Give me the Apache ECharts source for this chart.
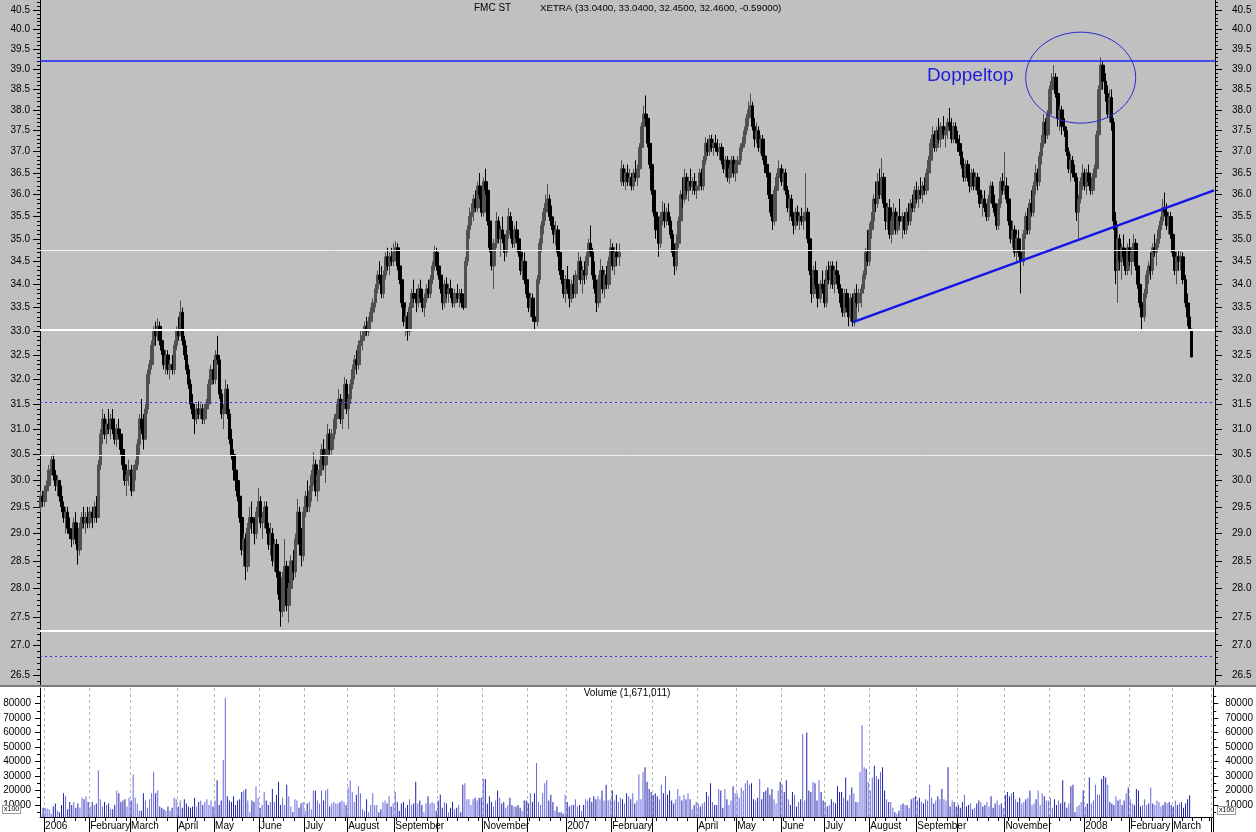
<!DOCTYPE html>
<html><head><meta charset="utf-8">
<script src="https://cdn.jsdelivr.net/npm/echarts@6/dist/echarts.min.js"></script>
<style>html,body{margin:0;padding:0;background:#fff}#c{width:1256px;height:832px}</style>
</head><body><div id="c"></div><script>
// ---------- DATA ----------
const symbolName = 'FMC ST';
const exchange = 'XETRA';
const holidays = ['2006-04-14','2006-04-17','2006-05-01','2006-12-25','2006-12-26','2007-01-01','2007-04-06','2007-04-09','2007-05-01','2007-12-24','2007-12-25','2007-12-26','2007-12-31','2008-01-01','2008-03-21','2008-03-24'];
const monthLabels = ['2006','February','March','April','May','June','July','August','September','','November','',
  '2007','February','','April','May','June','July','August','September','','November','',
  '2008','February','March'];
const priceTicks = [26.5,27.0,27.5,28.0,28.5,29.0,29.5,30.0,30.5,31.0,31.5,32.0,32.5,33.0,33.5,34.0,34.5,35.0,35.5,36.0,36.5,37.0,37.5,38.0,38.5,39.0,39.5,40.0,40.5];
const volumeTicks = [10000,20000,30000,40000,50000,60000,70000,80000];
const volumeMinorTicks = [5000,15000,25000,35000,45000,55000,65000,75000,85000];
// horizontal levels: resistance, white support lines, blue dotted lines
const resistanceLevel = 39.20;
const whiteThinLevels = [34.75, 30.49];
const whiteThickLevels = [33.02, 27.26];
const dottedLevels = [31.54, 26.81];
// trend line: [bar index, price]
const trendStart = [396, 33.19];
const trendEnd = [572, 36.10];
// "Doppeltop" annotation anchors: [bar index, price]
const doubleTopCenter = [506.6, 38.79];
const doubleTopLabelAt = [432, 38.83];
// daily bars [open, high, low, close]
const ohlc = [
[29.5,29.8,29.4,29.7],[29.7,29.8,29.5,29.6],[29.6,29.9,29.5,29.8],[29.8,30.0,29.6,29.9],[29.9,30.3,29.8,30.2],[30.2,30.5,30.1,30.4],[30.4,30.5,30.0,30.1],[30.1,30.2,29.8,29.9],[29.9,30.1,29.7,30.0],[30.0,30.0,29.6,29.7],
[29.7,29.9,29.4,29.5],[29.5,29.6,29.2,29.3],[29.3,29.5,29.0,29.4],[29.4,29.5,29.0,29.1],[29.1,29.3,28.9,29.0],[29.0,29.1,28.75,28.9],[28.9,29.3,28.8,29.2],[29.2,29.4,28.8,28.9],[28.9,29.0,28.43,28.7],[28.7,29.2,28.6,29.1],
[29.1,29.4,29.0,29.3],[29.3,29.5,29.1,29.2],[29.2,29.4,29.0,29.3],[29.3,29.5,29.1,29.2],[29.2,29.5,29.1,29.4],[29.4,29.5,29.1,29.3],[29.3,29.6,29.2,29.5],[29.5,29.7,29.2,29.3],[29.3,30.4,29.3,30.3],[30.3,31.0,30.2,30.9],
[30.9,31.4,30.7,31.2],[31.2,31.3,30.8,30.9],[30.9,31.2,30.7,31.1],[31.1,31.4,30.9,31.0],[31.0,31.3,30.8,31.2],[31.2,31.4,30.9,31.0],[31.0,31.2,30.7,30.8],[30.8,31.1,30.65,31.0],[31.0,31.2,30.8,30.9],[30.9,31.0,30.5,30.6],
[30.6,30.9,30.2,30.3],[30.3,30.4,29.9,30.0],[30.0,30.2,29.7,30.1],[30.1,30.4,29.9,30.2],[30.2,30.3,29.7,29.8],[29.8,30.3,29.8,30.2],[30.2,30.4,30.0,30.3],[30.3,30.8,30.2,30.7],[30.7,31.3,30.5,31.2],[31.2,31.6,30.9,31.0],
[31.0,31.3,30.6,30.8],[30.8,31.5,30.8,31.4],[31.4,32.2,31.3,32.1],[32.1,32.4,31.9,32.3],[32.3,32.8,32.2,32.7],[32.7,33.1,32.5,33.0],[33.0,33.2,32.7,32.9],[32.9,33.27,32.8,33.1],[33.1,33.2,32.7,32.8],[32.8,33.0,32.5,32.6],
[32.6,32.7,32.2,32.3],[32.3,32.6,32.1,32.5],[32.5,32.6,32.1,32.2],[32.2,32.4,32.0,32.3],[32.3,32.5,32.1,32.2],[32.2,32.8,32.1,32.7],[32.7,33.1,32.6,33.0],[33.0,33.3,32.8,32.9],[32.9,33.65,32.9,33.4],[33.4,33.5,32.7,32.8],
[32.8,32.9,32.4,32.5],[32.5,32.7,32.1,32.2],[32.2,32.3,31.8,31.9],[31.9,32.0,31.4,31.5],[31.5,31.7,31.2,31.3],[31.3,31.4,30.9,31.2],[31.2,31.5,31.1,31.4],[31.4,31.55,31.2,31.3],[31.3,31.5,31.2,31.4],[31.4,31.5,31.1,31.2],
[31.2,31.5,31.1,31.4],[31.4,31.6,31.3,31.5],[31.5,32.0,31.4,31.9],[31.9,32.3,31.8,32.2],[32.2,32.4,31.9,32.0],[32.0,32.6,31.9,32.5],[32.5,32.9,32.3,32.4],[32.4,32.5,31.6,31.7],[31.7,31.8,31.2,31.3],[31.3,31.5,31.0,31.4],
[31.4,32.0,31.3,31.8],[31.8,31.9,31.2,31.3],[31.3,31.4,30.7,30.8],[30.8,31.0,30.4,30.5],[30.5,30.6,30.0,30.2],[30.2,30.4,29.8,30.0],[30.0,30.2,29.6,29.7],[29.7,29.8,29.2,29.3],[29.3,29.5,28.6,28.7],[28.7,29.0,28.4,28.9],
[28.9,29.0,28.15,28.4],[28.4,29.2,28.3,29.1],[29.1,29.5,28.9,29.3],[29.3,29.6,29.0,29.2],[29.2,29.3,28.8,29.0],[29.0,29.5,28.9,29.4],[29.4,29.85,29.3,29.6],[29.6,29.7,29.1,29.2],[29.2,29.4,28.9,29.3],[29.3,29.6,29.1,29.5],
[29.5,29.6,29.0,29.1],[29.1,29.2,28.7,28.8],[28.8,29.2,28.6,29.0],[29.0,29.1,28.4,28.5],[28.5,28.9,28.3,28.8],[28.8,28.9,28.2,28.3],[28.3,28.5,27.8,27.9],[27.9,28.0,27.33,27.6],[27.6,28.3,27.5,28.2],[28.2,28.9,28.0,28.4],
[28.4,28.5,27.6,27.7],[27.7,28.1,27.4,28.0],[28.0,28.6,27.9,28.5],[28.5,28.7,28.15,28.3],[28.3,29.0,28.2,28.9],[28.9,29.65,28.8,29.4],[29.4,29.5,28.6,28.8],[28.8,29.1,28.4,28.6],[28.6,29.5,28.5,29.4],[29.4,29.8,29.3,29.7],
[29.7,30.0,29.4,29.5],[29.5,29.9,29.4,29.8],[29.8,30.2,29.6,30.1],[30.1,30.55,29.9,30.3],[30.3,30.4,29.7,29.8],[29.8,30.2,29.6,30.1],[30.1,30.4,29.9,30.2],[30.2,30.7,30.1,30.6],[30.6,30.8,30.2,30.3],[30.3,30.6,29.95,30.5],
[30.5,31.1,30.4,30.9],[30.9,31.0,30.5,30.6],[30.6,31.0,30.5,30.9],[30.9,31.3,30.8,31.2],[31.2,31.5,31.0,31.3],[31.3,31.8,31.2,31.6],[31.6,31.7,31.1,31.2],[31.2,31.6,31.0,31.5],[31.5,32.05,31.4,31.9],[31.9,32.0,31.3,31.4],
[31.4,31.7,31.0,31.6],[31.6,32.0,31.5,31.9],[31.9,32.3,31.8,32.2],[32.2,32.5,32.0,32.4],[32.4,32.6,32.1,32.3],[32.3,32.8,32.2,32.7],[32.7,33.0,32.5,32.8],[32.8,33.0,32.6,32.9],[32.9,33.2,32.9,33.1],[33.1,33.3,32.9,33.0],
[33.0,33.3,32.9,33.2],[33.2,33.5,33.1,33.4],[33.4,33.7,33.3,33.6],[33.6,34.0,33.5,33.9],[33.9,34.3,33.8,34.2],[34.2,34.5,34.0,34.1],[34.1,34.4,33.7,33.8],[33.8,34.3,33.7,34.2],[34.2,34.7,34.1,34.6],[34.6,34.8,34.3,34.4],
[34.4,34.7,34.2,34.6],[34.6,34.8,34.4,34.5],[34.5,34.9,34.4,34.7],[34.7,34.95,34.5,34.8],[34.8,34.9,34.3,34.4],[34.4,34.6,34.0,34.1],[34.1,34.2,33.5,33.6],[33.6,33.8,33.1,33.2],[33.2,33.5,32.9,33.3],[33.3,33.4,32.8,33.0],
[33.0,33.6,32.9,33.5],[33.5,33.9,33.3,33.8],[33.8,34.1,33.6,33.7],[33.7,33.9,33.4,33.6],[33.6,34.0,33.5,33.9],[33.9,34.1,33.6,33.7],[33.7,33.9,33.4,33.5],[33.5,33.8,33.3,33.7],[33.7,34.0,33.6,33.9],[33.9,34.1,33.7,33.8],
[33.8,34.2,33.7,34.1],[34.1,34.5,34.0,34.4],[34.4,34.85,34.3,34.7],[34.7,34.8,34.3,34.4],[34.4,34.6,34.1,34.2],[34.2,34.3,33.8,33.9],[33.9,34.0,33.45,33.6],[33.6,34.1,33.5,34.0],[34.0,34.15,33.7,33.8],[33.8,34.0,33.6,33.9],
[33.9,34.1,33.7,33.8],[33.8,33.9,33.5,33.6],[33.6,33.9,33.5,33.8],[33.8,34.0,33.6,33.7],[33.7,33.9,33.5,33.8],[33.8,33.9,33.5,33.6],[33.6,33.8,33.45,33.5],[33.5,34.6,33.5,34.5],[34.5,35.3,34.4,35.2],[35.2,35.7,35.0,35.5],
[35.5,35.8,35.3,35.6],[35.6,36.0,35.4,35.9],[35.9,36.1,35.6,35.7],[35.7,36.3,35.6,36.2],[36.2,36.5,35.9,36.0],[36.0,36.2,35.5,35.6],[35.6,36.4,35.5,36.3],[36.3,36.6,36.0,36.1],[36.1,36.2,35.3,35.4],[35.4,35.6,34.7,34.8],
[34.8,35.2,34.3,34.4],[34.4,35.0,33.9,34.9],[34.9,35.6,34.8,35.4],[35.4,35.5,34.9,35.0],[35.0,35.3,34.6,35.2],[35.2,35.5,34.9,35.0],[35.0,35.1,34.5,34.7],[34.7,35.2,34.6,35.1],[35.1,35.7,35.0,35.5],[35.5,35.6,35.0,35.2],
[35.2,35.4,34.8,34.9],[34.9,35.3,34.8,35.2],[35.2,35.4,34.9,35.0],[35.0,35.1,34.6,34.7],[34.7,34.8,34.2,34.3],[34.3,34.6,34.1,34.5],[34.5,34.7,34.0,34.1],[34.1,34.2,33.7,33.8],[33.8,33.9,33.4,33.5],[33.5,33.8,33.3,33.7],
[33.7,33.8,33.2,33.3],[33.3,33.4,33.0,33.2],[33.2,34.2,33.1,34.1],[34.1,35.0,34.0,34.9],[34.9,35.4,34.7,35.3],[35.3,35.7,35.1,35.6],[35.6,36.0,35.4,35.8],[35.8,36.25,35.6,35.9],[35.9,36.0,35.4,35.5],[35.5,35.75,35.2,35.3],
[35.3,35.5,34.9,35.1],[35.1,35.4,34.85,35.2],[35.2,35.3,34.6,34.7],[34.7,34.8,34.2,34.3],[34.3,34.55,34.0,34.1],[34.1,34.3,33.7,33.8],[33.8,34.2,33.6,34.1],[34.1,34.4,33.8,33.9],[33.9,34.0,33.5,33.7],[33.7,34.1,33.6,34.0],
[34.0,34.2,33.7,33.8],[33.8,34.3,33.7,34.2],[34.2,34.7,34.1,34.5],[34.5,34.6,34.0,34.1],[34.1,34.4,33.8,34.3],[34.3,34.5,34.0,34.2],[34.2,34.7,34.1,34.6],[34.6,35.0,34.4,34.9],[34.9,35.3,34.6,34.7],[34.7,34.8,34.1,34.2],
[34.2,34.5,33.8,33.9],[33.9,34.1,33.4,33.6],[33.6,34.2,33.5,34.1],[34.1,34.55,34.0,34.3],[34.3,34.4,33.8,33.9],[33.9,34.3,33.7,34.2],[34.2,34.4,33.9,34.0],[34.0,34.6,33.9,34.5],[34.5,35.0,34.3,34.8],[34.8,34.9,34.3,34.4],
[34.4,34.8,34.2,34.7],[34.7,34.9,34.4,34.6],[34.6,34.9,34.4,34.7],[36.3,36.8,36.2,36.6],[36.6,36.7,36.2,36.3],[36.3,36.6,36.1,36.5],[36.5,36.7,36.2,36.3],[36.3,36.6,36.2,36.4],[36.4,36.5,36.1,36.2],[36.2,36.6,36.1,36.5],
[36.5,36.8,36.3,36.4],[36.4,36.7,36.2,36.6],[36.6,37.2,36.5,37.1],[37.1,37.7,37.0,37.6],[37.6,38.1,37.4,37.9],[37.9,38.35,37.6,37.8],[37.8,37.9,37.1,37.2],[37.2,37.4,36.6,36.7],[36.7,36.8,36.0,36.1],[36.1,36.2,35.5,35.6],
[35.6,35.8,35.0,35.2],[35.2,35.5,34.6,34.9],[34.9,35.6,34.8,35.5],[35.5,35.85,35.3,35.6],[35.6,35.8,35.25,35.4],[35.4,35.7,35.3,35.6],[35.6,35.8,35.3,35.4],[35.4,35.5,35.0,35.1],[35.1,35.2,34.6,34.7],[34.7,34.9,34.2,34.4],
[34.4,35.1,34.3,34.9],[34.9,35.5,34.8,35.4],[35.4,36.1,35.3,36.0],[36.0,36.4,35.7,35.9],[35.9,36.6,35.8,36.4],[36.4,36.5,36.0,36.1],[36.1,36.4,35.85,36.3],[36.3,36.6,36.1,36.2],[36.2,36.4,36.0,36.3],[36.3,36.5,36.0,36.1],
[36.1,36.3,35.9,36.2],[36.2,36.6,36.1,36.5],[36.5,36.6,36.1,36.2],[36.2,36.9,36.1,36.8],[36.8,37.35,36.7,37.2],[37.2,37.3,36.9,37.0],[37.0,37.4,36.9,37.3],[37.3,37.4,37.0,37.1],[37.1,37.3,36.9,37.2],[37.2,37.4,37.0,37.1],
[37.1,37.3,36.9,37.0],[37.0,37.2,36.8,37.1],[37.1,37.2,36.7,36.8],[36.8,36.95,36.5,36.6],[36.6,36.9,36.4,36.8],[36.8,36.9,36.3,36.4],[36.4,36.7,36.25,36.6],[36.6,36.9,36.5,36.8],[36.8,36.9,36.4,36.5],[36.5,36.8,36.3,36.7],
[36.7,36.9,36.5,36.8],[36.8,37.2,36.7,37.1],[37.1,37.35,37.0,37.2],[37.2,37.6,37.1,37.5],[37.5,37.9,37.4,37.8],[37.8,38.2,37.6,38.0],[38.0,38.4,37.8,38.1],[38.1,38.2,37.5,37.6],[37.6,37.8,37.1,37.3],[37.3,37.7,37.2,37.5],
[37.5,37.6,37.0,37.1],[37.1,37.4,36.95,37.3],[37.3,37.4,36.8,36.9],[36.9,37.1,36.5,36.7],[36.7,36.9,36.4,36.5],[36.5,36.6,35.9,36.0],[36.0,36.2,35.5,35.6],[35.6,35.8,35.2,35.4],[35.4,36.2,35.3,36.1],[36.1,36.5,36.0,36.4],
[36.4,36.8,36.2,36.6],[36.6,36.7,36.2,36.3],[36.3,36.6,36.1,36.5],[36.5,36.6,36.0,36.1],[36.1,36.2,35.6,35.7],[35.7,36.0,35.4,35.9],[35.9,36.0,35.4,35.5],[35.5,35.6,35.1,35.3],[35.3,35.7,35.2,35.6],[35.6,35.75,35.3,35.4],
[35.4,35.6,35.2,35.5],[35.5,35.7,35.3,35.4],[35.4,35.6,35.2,35.5],[35.5,36.5,35.4,35.6],[35.6,35.7,34.9,35.0],[35.0,35.2,34.2,34.3],[34.3,34.5,33.6,33.8],[33.8,34.4,33.7,34.3],[34.3,34.5,33.9,34.0],[34.0,34.2,33.5,33.7],
[33.7,34.1,33.6,34.0],[34.0,34.3,33.8,33.9],[33.9,34.1,33.5,33.6],[33.6,34.4,33.5,34.3],[34.3,34.5,34.0,34.1],[34.1,34.5,33.9,34.4],[34.4,34.5,33.9,34.0],[34.0,34.4,33.8,34.3],[34.3,34.5,34.0,34.2],[34.2,34.3,33.8,33.9],
[33.9,34.0,33.5,33.6],[33.6,33.8,33.3,33.4],[33.4,33.9,33.3,33.8],[33.8,33.9,33.4,33.5],[33.5,33.6,33.1,33.3],[33.3,33.8,33.2,33.7],[33.7,33.8,33.1,33.2],[33.2,33.9,33.1,33.8],[33.8,34.0,33.5,33.6],[33.6,33.9,33.4,33.8],
[33.8,34.0,33.5,33.9],[33.9,34.3,33.8,34.2],[34.2,34.8,34.1,34.7],[34.7,35.2,34.4,34.5],[34.5,35.35,34.4,35.2],[35.2,35.6,35.0,35.4],[35.4,36.0,35.2,35.9],[35.9,36.3,35.6,35.8],[35.8,36.5,35.7,36.3],[36.3,36.6,35.9,36.0],
[36.0,36.85,35.9,36.4],[36.4,36.5,35.7,35.8],[35.8,36.0,35.2,35.4],[35.4,35.8,35.2,35.7],[35.7,35.9,35.0,35.1],[35.1,35.5,34.9,35.4],[35.4,35.8,35.3,35.6],[35.6,35.7,35.1,35.2],[35.2,35.6,35.1,35.5],[35.5,35.9,35.3,35.4],
[35.4,35.6,35.0,35.5],[35.5,35.6,35.1,35.2],[35.2,35.7,35.1,35.6],[35.6,35.8,35.3,35.4],[35.4,35.9,35.3,35.8],[35.8,36.0,35.6,35.7],[35.7,36.2,35.6,36.1],[36.1,36.3,35.8,35.9],[35.9,36.2,35.7,36.1],[36.1,36.4,35.9,36.0],
[36.0,36.3,35.8,36.2],[36.2,36.4,36.0,36.1],[36.1,36.6,36.0,36.5],[36.5,36.9,36.3,36.8],[36.8,37.3,36.7,37.2],[37.2,37.6,37.0,37.4],[37.4,37.5,37.0,37.1],[37.1,37.6,37.0,37.5],[37.5,37.8,37.2,37.3],[37.3,37.7,37.1,37.6],
[37.6,37.85,37.3,37.4],[37.4,37.6,37.1,37.5],[37.5,37.8,37.3,37.7],[37.7,38.05,37.5,37.6],[37.6,37.8,37.2,37.3],[37.3,37.7,37.2,37.6],[37.6,37.7,37.2,37.3],[37.3,37.5,37.0,37.2],[37.2,37.4,36.9,37.0],[37.0,37.2,36.6,36.7],
[36.7,36.85,36.3,36.4],[36.4,36.8,36.3,36.7],[36.7,36.8,36.3,36.4],[36.4,36.5,36.05,36.2],[36.2,36.6,36.1,36.5],[36.5,36.6,36.1,36.2],[36.2,36.5,36.1,36.4],[36.4,36.5,36.0,36.1],[36.1,36.2,35.7,35.8],[35.8,36.0,35.5,35.9],
[35.9,36.1,35.6,35.7],[35.7,35.8,35.4,35.5],[35.5,36.0,35.4,35.9],[35.9,36.3,35.8,36.2],[36.2,36.3,35.7,35.8],[35.8,36.0,35.5,35.6],[35.6,35.8,35.2,35.3],[35.3,35.9,35.2,35.8],[35.8,36.4,35.7,36.3],[36.3,36.5,36.0,36.1],
[36.1,37.0,36.0,36.2],[36.2,36.4,35.8,35.9],[35.9,36.0,35.3,35.4],[35.4,35.5,34.9,35.0],[35.0,35.4,34.8,35.2],[35.2,35.3,34.6,34.7],[34.7,35.1,34.5,35.0],[35.0,35.2,34.6,34.7],[34.7,34.9,33.8,34.5],[34.5,35.2,34.4,35.1],
[35.1,35.6,35.0,35.5],[35.5,35.7,35.1,35.2],[35.2,35.9,35.1,35.8],[35.8,36.1,35.5,35.6],[35.6,36.3,35.5,36.2],[36.2,36.7,36.0,36.5],[36.5,36.6,36.1,36.3],[36.3,37.0,36.2,36.9],[36.9,37.4,36.7,37.2],[37.2,37.9,37.1,37.7],
[37.7,37.8,37.2,37.4],[37.4,38.0,37.3,37.9],[37.9,38.6,37.8,38.5],[38.5,38.9,38.2,38.7],[38.7,39.1,38.5,38.8],[38.8,38.9,38.3,38.4],[38.4,38.6,37.6,37.8],[37.8,38.1,37.5,38.0],[38.0,38.1,37.4,37.6],[37.6,37.8,37.35,37.5],
[37.5,37.6,36.9,37.0],[37.0,37.1,36.5,36.6],[36.6,36.95,36.3,36.8],[36.8,36.9,36.4,36.5],[36.5,36.7,36.3,36.4],[36.4,36.5,35.4,35.6],[35.6,36.0,35.0,35.9],[35.9,36.4,35.8,36.3],[36.3,36.7,36.1,36.5],[36.5,36.6,36.1,36.2],
[36.2,36.6,36.0,36.5],[36.5,36.7,36.2,36.3],[36.3,36.4,36.0,36.1],[36.1,36.5,36.0,36.4],[36.4,36.7,36.2,36.6],[36.6,37.5,36.5,37.4],[37.4,38.6,37.3,38.5],[38.5,39.3,38.3,39.1],[39.1,39.2,38.5,38.7],[38.7,38.9,38.2,38.4],
[38.4,38.6,37.8,37.9],[37.9,38.5,37.7,38.3],[38.3,38.5,37.5,37.7],[37.7,37.8,35.2,35.4],[35.4,35.6,34.0,34.3],[34.3,35.3,33.6,35.0],[35.0,35.1,34.3,34.5],[34.5,34.9,34.1,34.8],[34.8,35.1,34.4,34.6],[34.6,34.8,34.2,34.3],
[34.3,34.9,34.2,34.8],[34.8,35.0,34.4,34.5],[34.5,34.8,34.2,34.7],[34.7,35.1,34.5,34.9],[34.9,35.0,34.3,34.4],[34.4,34.6,33.9,34.0],[34.0,34.1,33.5,33.6],[33.6,33.8,33.0,33.3],[33.3,33.9,33.2,33.8],[33.8,34.3,33.7,34.2],
[34.2,34.5,34.0,34.4],[34.4,34.7,34.1,34.3],[34.3,34.9,34.2,34.8],[34.8,35.1,34.6,34.7],[34.7,35.0,34.4,34.9],[34.9,35.3,34.8,35.2],[35.2,35.5,35.0,35.4],[35.4,35.9,35.3,35.7],[35.7,36.05,35.5,35.6],[35.6,35.8,35.2,35.3],
[35.3,35.6,35.1,35.5],[35.5,35.6,35.0,35.1],[35.1,35.3,34.6,34.7],[34.7,34.8,34.2,34.3],[34.3,34.7,34.0,34.6],[34.6,34.75,34.3,34.5],[34.5,34.75,34.3,34.6],[34.6,34.7,34.0,34.1],[34.1,34.2,33.5,33.6],[33.6,33.8,33.1,33.3],
[33.3,33.6,33.0,33.05],[33.04,33.04,32.45,32.46]
];
// daily volume (x100 shares)
const volumes = [
3000,8000,8000,7500,7000,4000,9000,11000,6000,5000,10000,18000,16000,7000,12000,10000,12000,8000,11000,8000,15000,14000,16000,12000,9000,12000,10000,11000,34000,14000,
9000,12000,10000,11000,7000,7000,10000,20000,18000,12000,13000,14000,9000,15000,13000,31000,15000,11000,6000,6000,18000,13000,8000,14000,18000,33000,18000,20000,9000,8000,
7000,6000,9000,6000,8000,15000,14000,9000,13000,8000,14000,11000,9000,8000,9000,15000,9000,12000,13000,10000,12000,14000,10000,13000,9000,13000,
27000,10000,13000,41000,84000,16000,13000,12000,16000,10000,13000,14000,19000,20000,
21000,13000,5000,13000,12000,23000,15000,8000,10000,19000,13000,10000,12000,21000,12000,17000,26000,10000,15000,10000,24000,16000,9000,5000,14000,13000,8000,11000,12000,6000,
11000,12000,7000,20000,20000,13000,11000,20000,13000,20000,21000,9000,11000,12000,11000,11000,12000,13000,12000,10000,
22000,27000,19000,12000,17000,23000,18000,7000,6000,14000,
5000,10000,18000,10000,10000,5000,7000,12000,13000,11000,16000,9000,11000,19000,12000,6000,11000,12000,8000,10000,14000,10000,11000,26000,11000,13000,10000,5000,11000,16000,
11000,12000,11000,6000,13000,17000,8000,12000,11000,5000,8000,12000,7000,8000,10000,5000,24000,25000,14000,14000,10000,14000,15000,13000,15000,15000,28000,28000,11000,16000,
12000,9000,13000,20000,15000,11000,12000,8000,10000,15000,10000,9000,9000,10000,8000,6000,13000,13000,11000,18000,12000,18000,39000,12000,10000,18000,25000,27000,13000,17000,
12000,6000,9000,5000,5000,4000,17000,12000,9000,10000,10000,14000,9000,10000,6000,10000,14000,13000,15000,12000,16000,14000,16000,14000,20000,13000,24000,13000,14000,20000,
13000,17000,12000,15000,14000,11000,18000,16000,14000,18000,11000,13000,31000,14000,33000,36000,26000,21000,19000,17000,18000,16000,14000,24000,18000,30000,17000,20000,13000,11000,
14000,21000,16000,13000,17000,14000,18000,14000,7000,10000,12000,11000,9000,11000,12000,19000,16000,25000,12000,10000,10000,21000,20000,8000,21000,14000,10000,13000,23000,18000,
18000,15000,22000,20000,25000,27000,24000,25000,14000,13000,15000,28000,14000,19000,20000,22000,17000,21000,14000,11000,20000,26000,24000,19000,27000,14000,10000,19000,17000,9000,
12000,14000,59000,13000,60000,20000,19000,26000,25000,13000,27000,19000,13000,12000,9000,10000,14000,12000,11000,23000,19000,19000,15000,29000,13000,17000,22000,18000,12000,12000,
33000,65000,36000,35000,26000,20000,29000,37000,30000,28000,33000,36000,20000,14000,12000,12000,8000,5000,4000,6000,10000,11000,10000,10000,8000,14000,15000,16000,13000,15000,
12000,11000,14000,13000,24000,15000,11000,13000,16000,14000,21000,14000,13000,36000,9000,13000,12000,9000,10000,8000,12000,17000,9000,10000,11000,7000,8000,11000,13000,12000,
9000,10000,12000,9000,16000,8000,11000,13000,10000,11000,8000,17000,19000,16000,18000,19000,14000,12000,15000,11000,12000,14000,15000,20000,10000,11000,14000,20000,10000,18000,
16000,13000,13000,15000,8000,14000,10000,13000,11000,27000,12000,8000,11000,23000,24000,5000,9000,10000,12000,20000,9000,11000,29000,11000,13000,24000,17000,17000,28000,30000,
29000,24000,12000,11000,10000,16000,13000,14000,10000,13000,18000,22000,14000,11000,10000,21000,20000,9000,10000,14000,10000,11000,22000,11000,10000,13000,12000,9000,10000,12000,
11000,12000,10000,9000,13000,10000,11000,12000,8000,11000,14000,16710.11
];
const futureSlots = 11;

// ---------- BUILD ----------
function buildDates(start, count) {
  const out = [];
  const d = new Date(start + 'T00:00:00Z');
  while (out.length < count) {
    const wd = d.getUTCDay();
    const s = d.toISOString().slice(0, 10);
    if (wd !== 0 && wd !== 6 && holidays.indexOf(s) < 0) out.push(s);
    d.setUTCDate(d.getUTCDate() + 1);
  }
  return out;
}
const dates = buildDates('2005-12-29', ohlc.length + futureSlots);
const dow = s => new Date(s + 'T00:00:00Z').getUTCDay();
const isMonthStart = dates.map((s, i) => i > 0 && s.slice(0, 7) !== dates[i - 1].slice(0, 7));
const isWeekStart = dates.map((s, i) => i > 0 && dow(s) < dow(dates[i - 1]));
const labelAt = dates.map((s, i) => {
  if (!isMonthStart[i]) return '';
  const y = +s.slice(0, 4), m = +s.slice(5, 7);
  return monthLabels[(y - 2006) * 12 + m - 1] || '';
});

const L = Math.log;
const lnMin = L(26.33), lnMax = L(40.76);
const majorLn = priceTicks.map(L);
const minorLn = [];
for (let v = 264; v <= 407; v++) minorLn.push(L(v / 10));
const candle = ohlc.map(b => [L(b[0]), L(b[3]), L(b[2]), L(b[1])]);

const font = "'Liberation Sans', Arial, sans-serif";
const axisTxt = { fontSize: 10, color: '#000', fontFamily: font };

function priceAxis(pos, labels, ticks, len, margin) {
  return {
    type: 'value', gridIndex: 0, position: pos, min: lnMin, max: lnMax,
    axisLine: { show: labels, lineStyle: { color: '#000', width: 1 } },
    axisTick: { show: true, customValues: ticks, length: len, lineStyle: { color: '#000', width: 1 } },
    axisLabel: labels ? Object.assign({ show: true, customValues: majorLn, margin: margin,
      formatter: v => Math.exp(v).toFixed(1) }, axisTxt) : { show: false },
    splitLine: { show: false }
  };
}
const volMin = 1700, volMax = 90700;
function volAxis(pos, labels, ticks, len, margin) {
  return {
    type: 'value', gridIndex: 1, position: pos, min: volMin, max: volMax,
    axisLine: { show: labels, lineStyle: { color: '#000', width: 1 } },
    axisTick: { show: true, customValues: ticks, length: len, lineStyle: { color: '#000' } },
    axisLabel: labels ? Object.assign({ show: true, customValues: volumeTicks, margin: margin,
      formatter: v => String(Math.round(v)) }, axisTxt) : { show: false },
    splitLine: { show: false }
  };
}

const last = ohlc[ohlc.length - 1];
const prevClose = ohlc[ohlc.length - 2][3];
const titleText = exchange + ' (' + [last[0], last[1], last[2], last[3]].map(v => v.toFixed(4)).join(', ') +
  ', ' + (last[3] - prevClose).toFixed(5) + ')';
const volTitle = 'Volume (' + Math.round(volumes[volumes.length - 1] * 100).toLocaleString('en-US') + ')';

const chart = echarts.init(document.getElementById('c'), null, { renderer: 'canvas' });
const option = {
  animation: false,
  backgroundColor: '#c0c0c0',
  grid: [
    { left: 40, right: 41, top: 0, height: 685 },
    { left: 40, right: 41, top: 688, height: 129 }
  ],
  xAxis: [
    { type: 'category', gridIndex: 0, data: dates, boundaryGap: true,
      axisLine: { show: false }, axisTick: { show: false }, axisLabel: { show: false }, splitLine: { show: false } },
    { type: 'category', gridIndex: 1, data: dates, boundaryGap: true, position: 'bottom',
      axisLine: { show: true, lineStyle: { color: '#000', width: 1 } },
      axisTick: { show: true, interval: i => isMonthStart[i], length: 15, lineStyle: { color: '#000' } },
      axisLabel: Object.assign({ show: true, interval: i => labelAt[i] !== '', formatter: (v, i) => labelAt[i],
        align: 'left', margin: 4 }, axisTxt),
      splitLine: { show: true, interval: i => isMonthStart[i], lineStyle: { color: '#b8b8b8', type: [3, 3], width: 1 } } },
    { type: 'category', gridIndex: 1, data: dates, boundaryGap: true, position: 'bottom',
      axisLine: { show: false },
      axisTick: { show: true, interval: i => isWeekStart[i], length: 4, lineStyle: { color: '#000' } },
      axisLabel: { show: false }, splitLine: { show: false } }
  ],
  yAxis: [
    priceAxis('left', true, majorLn, 7, 10),
    priceAxis('left', false, minorLn, 3, 0),
    priceAxis('right', true, majorLn, 7, 17),
    priceAxis('right', false, minorLn, 3, 0),
    volAxis('left', true, volumeTicks, 5, 9),
    volAxis('left', false, volumeMinorTicks, 3, 0),
    volAxis('right', true, volumeTicks, 5, 12),
    volAxis('right', false, volumeMinorTicks, 3, 0)
  ],
  series: [
    {
      type: 'candlestick', name: symbolName, xAxisIndex: 0, yAxisIndex: 0, data: candle, barWidth: 3,
      itemStyle: { color: '#505050', color0: '#000000', borderColor: '#505050', borderColor0: '#000000', borderWidth: 1 },
      markLine: {
        silent: true, symbol: ['none', 'none'], label: { show: false }, animation: false, precision: 10,
        data: [
          ...whiteThinLevels.map(v => ({ yAxis: L(v), lineStyle: { color: '#f0f0f0', width: 1, type: 'solid' } })),
          ...whiteThickLevels.map(v => ({ yAxis: L(v), lineStyle: { color: '#ffffff', width: 2, type: 'solid' } })),
          ...dottedLevels.map(v => ({ yAxis: L(v), lineStyle: { color: '#3030d8', width: 1, type: [2, 3] } })),
          { yAxis: L(resistanceLevel), lineStyle: { color: '#2020ff', width: 1.5, type: 'solid' } },
          [{ coord: [trendStart[0], L(trendStart[1])] , lineStyle: { color: '#1414e8', width: 2.5, type: 'solid' } },
           { coord: [trendEnd[0], L(trendEnd[1])] }]
        ]
      }
    },
    {
      type: 'bar', name: 'Volume', xAxisIndex: 1, yAxisIndex: 4, data: volumes, barWidth: 1,
      itemStyle: { color: p => (ohlc[p.dataIndex][3] < ohlc[p.dataIndex][0] ? '#2020a8' : '#6868e0') }
    }
  ]
};
chart.setOption(option);

const px = (i, p) => chart.convertToPixel({ xAxisIndex: 0, yAxisIndex: 0 }, [i, L(p)]);
const c = px(doubleTopCenter[0], doubleTopCenter[1]);
const t = px(doubleTopLabelAt[0], doubleTopLabelAt[1]);
chart.setOption({
  graphic: [
    { type: 'rect', silent: true, z: -10, shape: { x: 0, y: 686, width: 1256, height: 146 }, style: { fill: '#ffffff' } },
    { type: 'line', silent: true, z: 50, shape: { x1: 0, y1: 686, x2: 1256, y2: 686 }, style: { stroke: '#7a7a7a', lineWidth: 2 } },
    { type: 'text', silent: true, z: 50, x: 474, y: 3, style: { text: symbolName, fill: '#000', font: '10px ' + font } },
    { type: 'text', silent: true, z: 50, x: 540, y: 3, style: { text: titleText, fill: '#000', font: '9.7px ' + font } },
    { type: 'text', silent: true, z: 50, x: 627, y: 688, style: { text: volTitle, fill: '#000', font: '10px ' + font, align: 'center' } },
    { type: 'ellipse', silent: true, z: 50, shape: { cx: c[0], cy: c[1], rx: 55, ry: 45.5 }, style: { fill: 'none', stroke: '#2a2ad2', lineWidth: 1 } },
    { type: 'text', silent: true, z: 50, x: t[0], y: t[1], style: { text: 'Doppeltop', fill: '#1e1edc', font: '19px ' + font, verticalAlign: 'middle' } },
    { type: 'text', silent: true, z: 50, x: 3, y: 806, style: { text: 'x100', fill: '#000', font: '7px ' + font, backgroundColor: '#fff', borderColor: '#999', borderWidth: 1, padding: [0, 1] } },
    { type: 'text', silent: true, z: 50, x: 1218, y: 807, style: { text: 'x100', fill: '#000', font: '7px ' + font, backgroundColor: '#fff', borderColor: '#999', borderWidth: 1, padding: [0, 1] } }
  ]
});
</script></body></html>
